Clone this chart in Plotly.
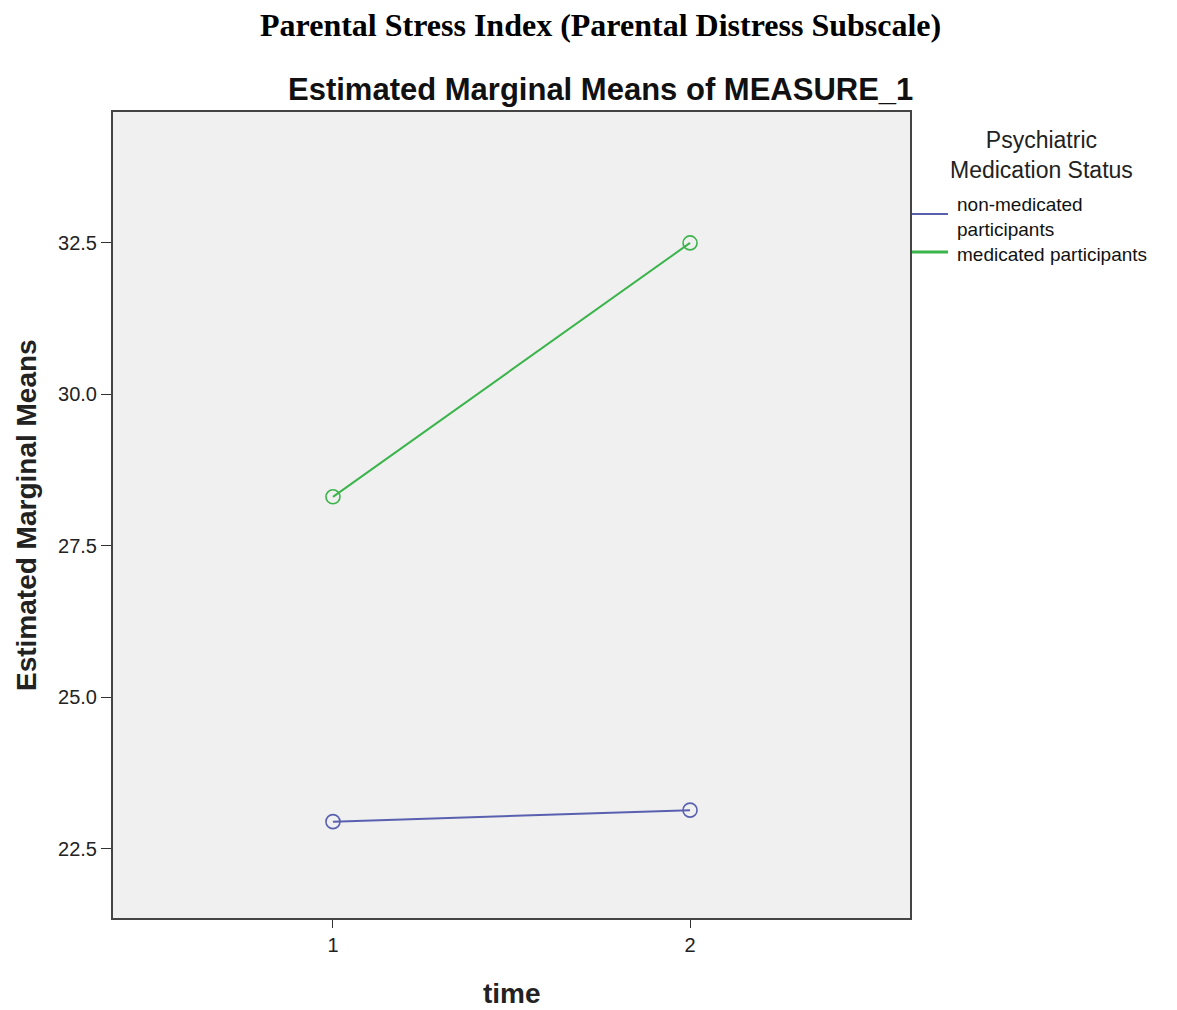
import plotly.graph_objects as go

time_points = [1, 2]
non_medicated = [22.95, 23.14]
medicated = [28.31, 32.50]
series_names = ["non-medicated<br>participants", "medicated participants"]
y_ticks = [22.5, 25.0, 27.5, 30.0, 32.5]
x_ticks = [1, 2]

blue = "#5a60b0"
green = "#3cb44c"
SANS = "Liberation Sans, Arial, sans-serif"

fig = go.Figure()
for vals, col, name in [(non_medicated, blue, series_names[0]), (medicated, green, series_names[1])]:
    fig.add_trace(go.Scatter(
        x=time_points, y=vals, mode="lines+markers", name=name,
        line=dict(color=col, width=2),
        marker=dict(symbol="circle-open", size=14, color=col, line=dict(width=1.6, color=col)),
        showlegend=False))

# page has an 8px body margin; screen coords of plot frame
OFF = 8
W, H = 1169, 1002
L, R, T, B = 113, 910, 112, 918
pw, ph = R - L, B - T


def px(x):
    return (x - L) / pw


def py(y):
    return (B - y) / ph


fig.update_layout(
    width=W, height=H,
    margin=dict(l=L - OFF, r=W - (R - OFF), t=T - OFF, b=H - (B - OFF)),
    paper_bgcolor="white", plot_bgcolor="#f0f0f0",
    font=dict(family=SANS, color="#333"),
    xaxis=dict(range=[0.384, 2.616], tickvals=x_ticks, ticktext=[str(v) for v in x_ticks],
               showgrid=False, zeroline=False, showline=True, mirror=True,
               linecolor="#444", linewidth=2, ticks="outside", ticklen=8, tickcolor="#333",
               tickfont=dict(size=20, family=SANS, color="#222")),
    yaxis=dict(range=[21.36, 34.66], tickvals=y_ticks, ticktext=[f"{v:.1f}" for v in y_ticks],
               showgrid=False, zeroline=False, showline=True, mirror=True,
               linecolor="#444", linewidth=2, ticks="outside", ticklen=10, tickcolor="#333",
               tickfont=dict(size=20, family=SANS, color="#222")),
)


def ann(text, x, y, size, family=SANS, anchor="center", color="#111", angle=0):
    return dict(text=text, x=px(x), y=py(y), xref="paper", yref="paper", showarrow=False,
                font=dict(family=family, size=size, color=color), textangle=angle,
                xanchor=anchor, yanchor="middle", align="left" if anchor == "left" else "center")


annotations = [
    ann("<b>Parental Stress Index (Parental Distress Subscale)</b>", 600, 25, 32,
        family="Liberation Serif, Times New Roman, serif", color="black"),
    ann("<b>Estimated Marginal Means of MEASURE_1</b>", 600, 89, 31),
    ann("<b>Estimated Marginal Means</b>", 26, 515, 28, angle=-90, color="#222"),
    ann("<b>time</b>", 512, 993, 28, color="#222"),
    ann("Psychiatric<br>Medication Status", 1041, 155, 23, color="#222"),
    ann(series_names[0], 955, 217, 19, anchor="left"),
    ann(series_names[1], 955, 254, 19, anchor="left"),
]
fig.update_layout(annotations=annotations)

fig.add_shape(type="line", xref="paper", yref="paper", x0=px(912), x1=px(948), y0=py(214), y1=py(214),
              line=dict(color=blue, width=2))
fig.add_shape(type="line", xref="paper", yref="paper", x0=px(912), x1=px(948), y0=py(252), y1=py(252),
              line=dict(color=green, width=3))

fig.write_html("out.html")
